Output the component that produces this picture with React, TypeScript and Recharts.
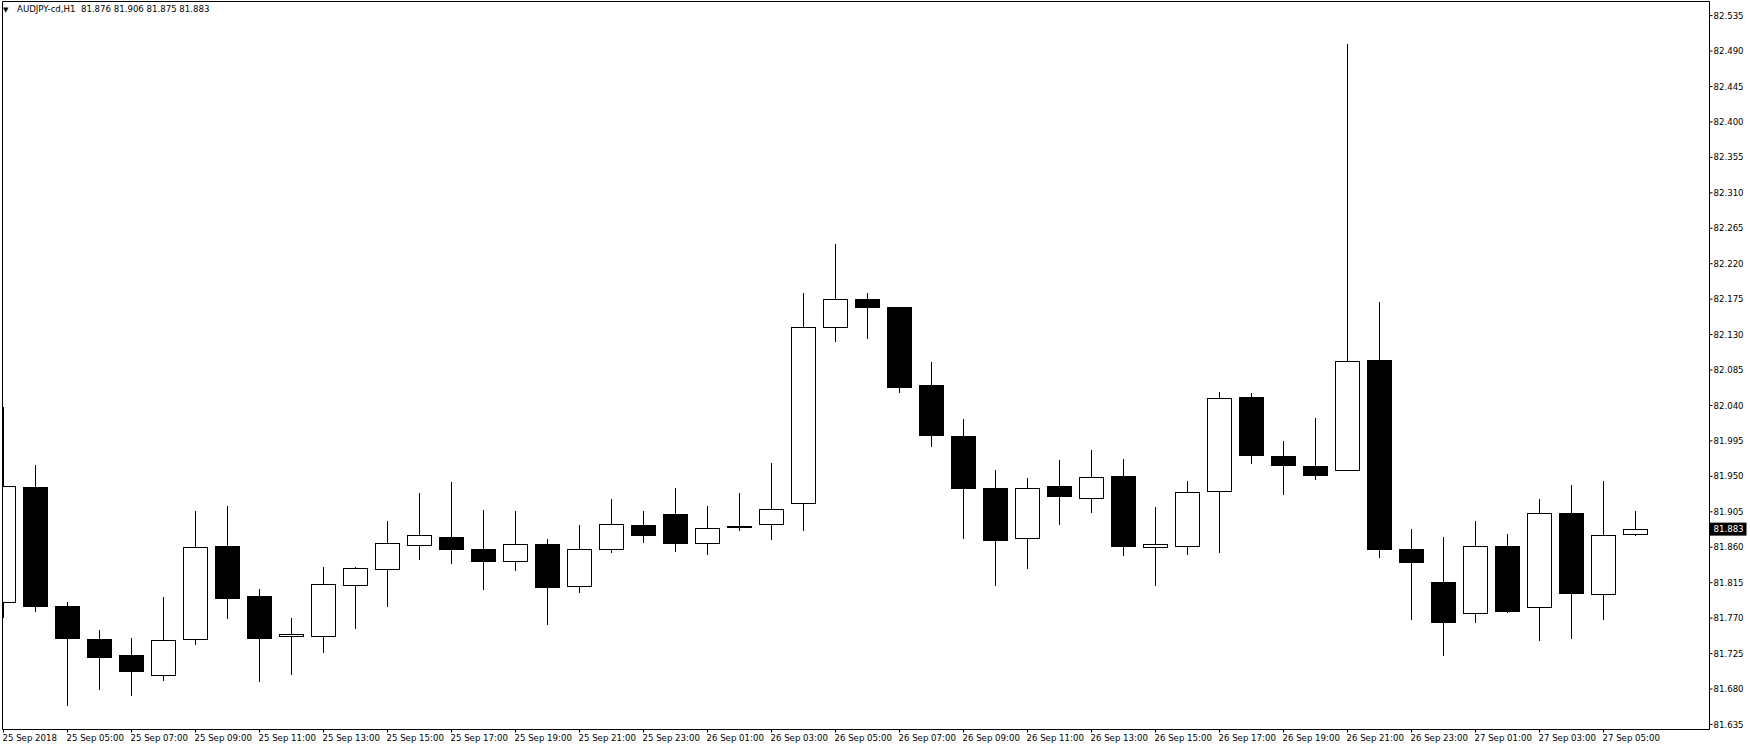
import { Bar, ComposedChart, ReferenceLine, XAxis, YAxis } from 'recharts';

const symbol = 'AUDJPY-cd,H1';

// one candle per hour, 25 Sep 03:00 .. 27 Sep 06:00
const times = [
    '25 Sep 03:00', '25 Sep 04:00', '25 Sep 05:00', '25 Sep 06:00', '25 Sep 07:00', '25 Sep 08:00',
    '25 Sep 09:00', '25 Sep 10:00', '25 Sep 11:00', '25 Sep 12:00', '25 Sep 13:00', '25 Sep 14:00',
    '25 Sep 15:00', '25 Sep 16:00', '25 Sep 17:00', '25 Sep 18:00', '25 Sep 19:00', '25 Sep 20:00',
    '25 Sep 21:00', '25 Sep 22:00', '25 Sep 23:00', '26 Sep 00:00', '26 Sep 01:00', '26 Sep 02:00',
    '26 Sep 03:00', '26 Sep 04:00', '26 Sep 05:00', '26 Sep 06:00', '26 Sep 07:00', '26 Sep 08:00',
    '26 Sep 09:00', '26 Sep 10:00', '26 Sep 11:00', '26 Sep 12:00', '26 Sep 13:00', '26 Sep 14:00',
    '26 Sep 15:00', '26 Sep 16:00', '26 Sep 17:00', '26 Sep 18:00', '26 Sep 19:00', '26 Sep 20:00',
    '26 Sep 21:00', '26 Sep 22:00', '26 Sep 23:00', '27 Sep 00:00', '27 Sep 01:00', '27 Sep 02:00',
    '27 Sep 03:00', '27 Sep 04:00', '27 Sep 05:00', '27 Sep 06:00',
];

const opens = [
    81.790, 81.936, 81.785, 81.743, 81.723, 81.697, 81.743, 81.861, 81.798, 81.747, 81.747, 81.812,
    81.832, 81.862, 81.873, 81.857, 81.842, 81.863, 81.810, 81.857, 81.888, 81.901, 81.865, 81.8865,
    81.889, 81.915, 82.139, 82.175, 82.164, 82.065, 82.001, 81.934, 81.871, 81.937, 81.922, 81.950,
    81.860, 81.861, 81.931, 82.050, 81.975, 81.963, 81.958, 82.097, 81.857, 81.815, 81.776, 81.861,
    81.783, 81.903, 81.800, 81.876,
];
const highs = [
    82.037, 81.964, 81.790, 81.754, 81.744, 81.796, 81.905, 81.912, 81.806, 81.770, 81.834, 81.834,
    81.893, 81.928, 81.942, 81.907, 81.905, 81.870, 81.887, 81.921, 81.905, 81.935, 81.912, 81.928,
    81.966, 82.182, 82.244, 82.182, 82.165, 82.095, 82.022, 81.958, 81.947, 81.970, 81.983, 81.971,
    81.910, 81.943, 82.056, 82.055, 81.994, 82.024, 82.498, 82.171, 81.882, 81.873, 81.893, 81.876,
    81.921, 81.938, 81.944, 81.906,
];
const lows = [
    81.771, 81.779, 81.659, 81.679, 81.672, 81.691, 81.736, 81.769, 81.689, 81.698, 81.726, 81.757,
    81.785, 81.845, 81.839, 81.806, 81.830, 81.762, 81.802, 81.853, 81.866, 81.854, 81.851, 81.881,
    81.870, 81.881, 82.121, 82.125, 82.057, 81.988, 81.871, 81.812, 81.833, 81.889, 81.904, 81.849,
    81.812, 81.851, 81.853, 81.966, 81.927, 81.946, 81.957, 81.847, 81.768, 81.722, 81.764, 81.777,
    81.741, 81.744, 81.768, 81.875,
];
const closes = [
    81.937, 81.785, 81.744, 81.720, 81.702, 81.742, 81.860, 81.795, 81.744, 81.749, 81.813, 81.833,
    81.865, 81.875, 81.857, 81.842, 81.864, 81.809, 81.857, 81.889, 81.875, 81.865, 81.884, 81.8858,
    81.908, 82.139, 82.174, 82.164, 82.063, 82.002, 81.934, 81.869, 81.935, 81.925, 81.949, 81.861,
    81.864, 81.930, 82.049, 81.976, 81.964, 81.951, 82.096, 81.857, 81.840, 81.765, 81.861, 81.778,
    81.903, 81.801, 81.875, 81.883,
];

// every second candle gets a label; the first one shows the date
const xTicks = [0, 2, 4, 6, 8, 10, 12, 14, 16, 18, 20, 22, 24, 26, 28, 30, 32, 34, 36, 38, 40, 42, 44, 46, 48, 50];
const xTickLabels = [
    '25 Sep 2018', '25 Sep 05:00', '25 Sep 07:00', '25 Sep 09:00', '25 Sep 11:00', '25 Sep 13:00',
    '25 Sep 15:00', '25 Sep 17:00', '25 Sep 19:00', '25 Sep 21:00', '25 Sep 23:00', '26 Sep 01:00',
    '26 Sep 03:00', '26 Sep 05:00', '26 Sep 07:00', '26 Sep 09:00', '26 Sep 11:00', '26 Sep 13:00',
    '26 Sep 15:00', '26 Sep 17:00', '26 Sep 19:00', '26 Sep 21:00', '26 Sep 23:00', '27 Sep 01:00',
    '27 Sep 03:00', '27 Sep 05:00',
];
const yTicks = [
    81.635, 81.68, 81.725, 81.77, 81.815, 81.86, 81.905, 81.95, 81.995, 82.04, 82.085,
    82.13, 82.175, 82.22, 82.265, 82.31, 82.355, 82.4, 82.445, 82.49, 82.535,
];

const W = 1750;
const H = 750;
const X_MIN = -0.03125;
const X_MAX = 53.3125;
const Y_MIN = 81.6286;
const Y_MAX = 82.5529;
const FONT = '"DejaVu Sans", sans-serif';
const FS = 8.6;

const data = times.map((time, i) => ({
    i,
    time,
    open: opens[i],
    high: highs[i],
    low: lows[i],
    close: closes[i],
    range: [lows[i], highs[i]],
}));

const last = data[data.length - 1];

function Candle(props: any) {
    const { x, y, width, height, payload } = props;
    if (x == null || y == null) return null;
    const { open, high, low, close } = payload;
    const top = Math.min(y, y + height);
    const bottom = Math.max(y, y + height);
    const span = high - low;
    const py = (p: number) => (span === 0 ? top : top + ((high - p) / span) * (bottom - top));
    const cx = Math.floor(x + width / 2) + 0.5;
    const bodyTop = Math.floor(py(Math.max(open, close))) + 0.5;
    const bodyBot = Math.floor(py(Math.min(open, close))) + 0.5;
    const bull = close >= open;
    return (
        <g>
            <line x1={cx} x2={cx} y1={Math.floor(py(high))} y2={Math.floor(py(low)) + 1} stroke="#000" strokeWidth={1} />
            <rect
                x={cx - 12}
                y={bodyTop}
                width={24}
                height={Math.max(bodyBot - bodyTop, 1)}
                fill={bull ? '#fff' : '#000'}
                stroke="#000"
                strokeWidth={1}
            />
        </g>
    );
}

function XTick(props: any) {
    const { x, y, payload } = props;
    const label = xTickLabels[xTicks.indexOf(payload.value)];
    return (
        <text x={x - 1} y={y + 6} fill="#000" fontSize={FS} fontFamily={FONT} textAnchor="start">
            {label}
        </text>
    );
}

function PriceTag(props: any) {
    const vb = props.viewBox;
    if (!vb) return null;
    const x0 = vb.x + vb.width;
    const yc = vb.y;
    return (
        <g>
            <rect x={x0} y={yc - 6.5} width={37} height={13} fill="#000" />
            <text x={x0 + 4} y={yc + 3.2} fill="#fff" fontSize={FS} fontFamily={FONT}>
                {last.close.toFixed(3)}
            </text>
        </g>
    );
}

export default function App() {
    return (
        <div style={{ position: 'relative', width: W, height: H, background: '#fff' }}>
            <style>{'body{margin:0;background:#fff}'}</style>
            <ComposedChart
                width={W}
                height={H}
                data={data}
                margin={{ top: 1.5, right: 0.5, bottom: 0, left: 2.5 }}
            >
                <XAxis
                    dataKey="i"
                    type="number"
                    domain={[X_MIN, X_MAX]}
                    allowDataOverflow
                    ticks={xTicks}
                    interval={0}
                    height={20.5}
                    tickSize={3}
                    tickMargin={2}
                    axisLine={{ stroke: '#000' }}
                    tickLine={{ stroke: '#000' }}
                    tick={<XTick />}
                />
                <YAxis
                    orientation="right"
                    width={40}
                    domain={[Y_MIN, Y_MAX]}
                    allowDataOverflow
                    ticks={yTicks}
                    interval={0}
                    tickSize={3}
                    tickMargin={1}
                    tickFormatter={(v: number) => v.toFixed(3)}
                    axisLine={{ stroke: '#000' }}
                    tickLine={{ stroke: '#000' }}
                    tick={{ fill: '#000', fontSize: FS, fontFamily: FONT }}
                />
                <ReferenceLine x={X_MIN} stroke="#000" />
                <ReferenceLine y={Y_MAX} stroke="#000" />
                <Bar dataKey="range" barSize={24} shape={Candle} isAnimationActive={false} />
                <ReferenceLine y={last.close} stroke="none" label={(p: any) => <PriceTag {...p} />} />
            </ComposedChart>
            <div
                style={{
                    position: 'absolute',
                    left: 3,
                    top: 4,
                    fontFamily: FONT,
                    fontSize: FS,
                    lineHeight: '11px',
                    color: '#000',
                    whiteSpace: 'pre',
                }}
            >
                <span style={{ fontSize: 7 }}>▼</span>
                <span style={{ position: 'absolute', left: 14, top: 0 }}>
                    {`${symbol}  ${last.open.toFixed(3)} ${last.high.toFixed(3)} ${last.low.toFixed(3)} ${last.close.toFixed(3)}`}
                </span>
            </div>
        </div>
    );
}
